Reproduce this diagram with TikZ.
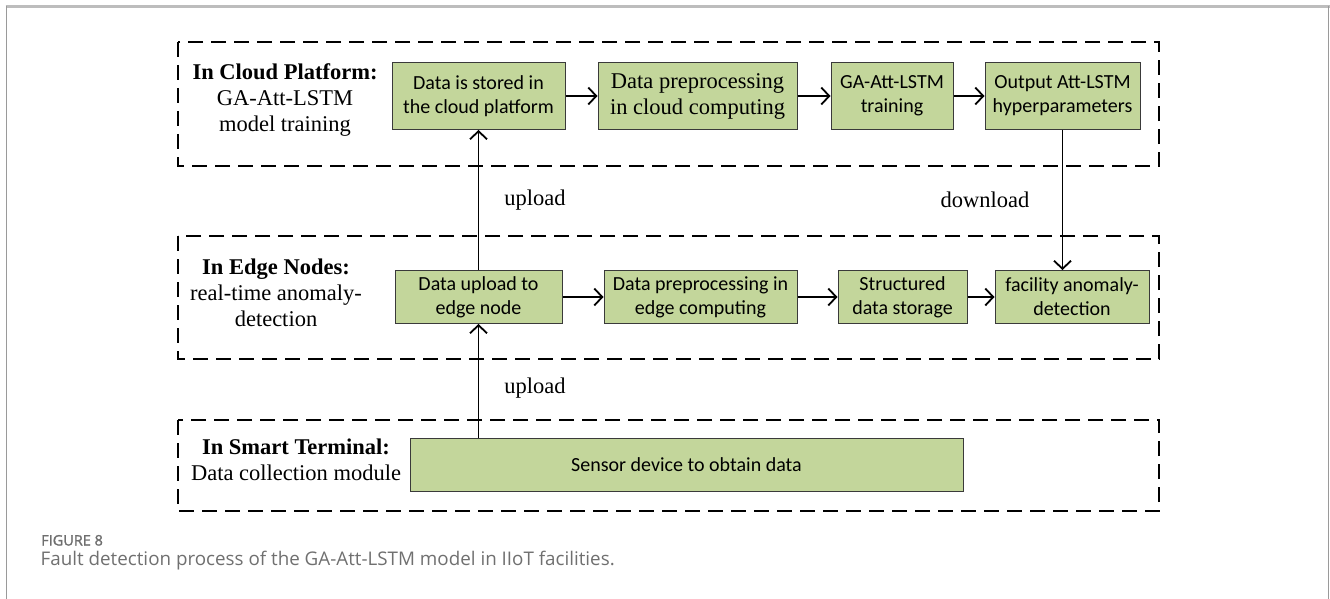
\documentclass[tikz,border=0pt]{standalone}
\usepackage{fontspec}
\setmainfont{Liberation Serif}
\newfontfamily\boxfont{Carlito}
\newfontfamily\capfont{Open Sans}
\newfontfamily\figfont[FakeBold=1.4]{Open Sans}
\usetikzlibrary{arrows.meta}
\definecolor{boxgreen}{HTML}{C3D69B}
\definecolor{boxline}{HTML}{3A3A3A}
\definecolor{frametop}{HTML}{BDBDBD}
\definecolor{frameside}{HTML}{9A9A9A}
\definecolor{capgray}{HTML}{707070}
\definecolor{figgray}{HTML}{6E6E6E}

\begin{document}
\begin{tikzpicture}[x=1pt,y=-1pt,
  stage/.style={draw=black, line width=2.2pt, dash pattern=on 15pt off 8pt},
  gbox/.style={draw=boxline, line width=1pt, fill=boxgreen, inner sep=0pt,
    align=center, font=\boxfont\fontsize{20}{24}\selectfont},
  serifbox/.style={gbox, font=\rmfamily\fontsize{22.5}{26}\selectfont},
  flow/.style={line width=1.8pt, -{Straight Barb[length=8pt,width=17pt]}},
  lbl/.style={align=center, inner sep=0pt, font=\fontsize{22.5}{26}\selectfont},
  tag/.style={inner sep=0pt, font=\fontsize{22.5}{26}\selectfont},
]
% page and outer frame
\useasboundingbox (0,0) rectangle (1330,599);
\fill[white] (0,0) rectangle (1330,599);
\draw[frametop, line width=2.4pt] (5.5,6.5) -- (1329.5,6.5);
\draw[frameside, line width=1.6pt] (6.5,6) -- (6.5,599);
\draw[frameside, line width=1.6pt] (1328.6,6) -- (1328.6,599);

% three stages
\draw[stage] (178,42) rectangle (1159,166);
\draw[stage] (178,236) rectangle (1159,359);
\draw[stage] (178,420) rectangle (1159,511);

% stage labels
\node[lbl] (cloudlbl) at (285,100) {\textbf{In Cloud Platform:}\\GA-Att-LSTM\\model training};
\node[lbl] (edgelbl) at (276,293) {\textbf{In Edge Nodes:}\\real-time anomaly-\\detection};
\node[lbl] (termlbl) at (296,460) {\textbf{In Smart Terminal:}\\Data collection module};

% cloud row
\node[gbox, minimum width=173pt, minimum height=67pt] (c1) at (478.5,96) {Data is stored in\\the cloud platform};
\node[serifbox, minimum width=199pt, minimum height=67pt] (c2) at (697.5,96) {Data preprocessing\\in cloud computing};
\node[gbox, minimum width=122pt, minimum height=67pt] (c3) at (892,96) {GA-Att-LSTM\\training};
\node[gbox, minimum width=155pt, minimum height=67pt] (c4) at (1062.5,96) {Output Att-LSTM\\hyperparameters};

% edge row
\node[gbox, minimum width=167pt, minimum height=53pt] (e1) at (478.5,297) {Data upload to\\edge node};
\node[gbox, minimum width=193pt, minimum height=53pt] (e2) at (700.5,297) {Data preprocessing in\\edge computing};
\node[gbox, minimum width=129pt, minimum height=53pt] (e3) at (902.5,297) {Structured\\data storage};
\node[gbox, minimum width=154pt, minimum height=53pt] (e4) at (1072,297) {facility anomaly-\\detection};

% terminal row
\node[gbox, minimum width=553pt, minimum height=53pt] (s1) at (686.5,465) {Sensor device to obtain data};

% connectors
\draw[flow] (c1) -- (c2);
\draw[flow] (c2) -- (c3);
\draw[flow] (c3) -- (c4);
\draw[flow] (e1) -- (e2);
\draw[flow] (e2) -- (e3);
\draw[flow] (e3) -- (e4);
\draw[flow] (s1.north -| e1.south) -- (e1.south);
\draw[flow] (e1.north) -- (c1.south);
\draw[flow] (c4.south) -- (c4.south |- e4.north);

% connector labels
\node[tag] (up1) at (535,200) {upload};
\node[tag] (up2) at (535,388) {upload};
\node[tag] (down) at (985,200) {download};

% caption
\node[anchor=base west, inner sep=0pt, text=figgray, font=\figfont\fontsize{14.5}{17}\selectfont] (fig) at (41,545.5) {FIGURE 8};
\node[anchor=base west, inner sep=0pt, text=capgray, font=\capfont\fontsize{18.8}{23}\selectfont] (cap) at (40.5,565) {Fault detection process of the GA-Att-LSTM model in IIoT facilities.};
\end{tikzpicture}
\end{document}
